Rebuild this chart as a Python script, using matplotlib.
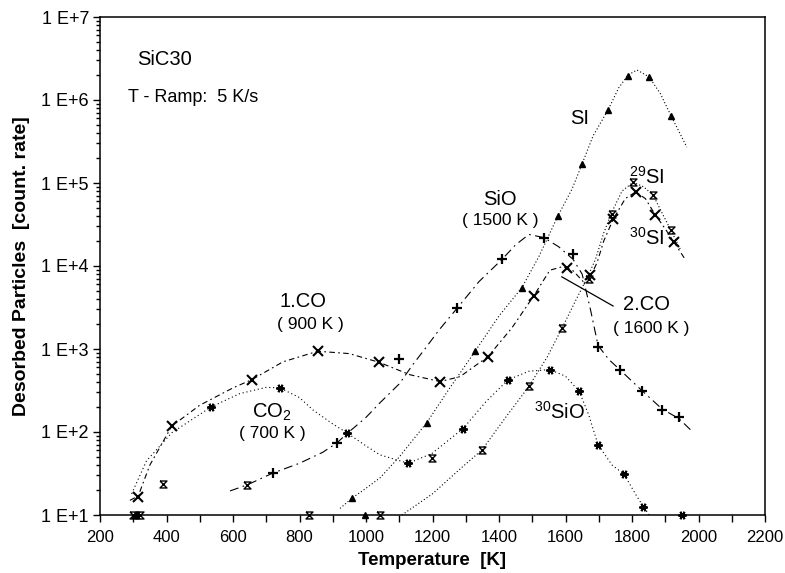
# SiC30 thermal desorption spectra, log count rate vs temperature

import numpy as np
import matplotlib
matplotlib.use('Agg')
import matplotlib.pyplot as plt
from matplotlib.path import Path
from matplotlib.ticker import FixedLocator, FuncFormatter, LogLocator, NullFormatter

plt.rcParams['font.family'] = ['Liberation Sans', 'DejaVu Sans']
plt.rcParams['mathtext.fontset'] = 'custom'
plt.rcParams['mathtext.rm'] = 'Liberation Sans'
plt.rcParams['mathtext.it'] = 'Liberation Sans:italic'
plt.rcParams['mathtext.bf'] = 'Liberation Sans:bold'

# ---- measured points (markers) ----
si_T = [305, 958, 997, 1183, 1328, 1469, 1577, 1650, 1728, 1788, 1851, 1917]
si_v = [10, 16, 10, 130, 940, 5500, 4.0e4, 1.7e5, 7.6e5, 1.95e6, 1.87e6, 6.5e5]

sio_T = [720, 913, 1099, 1274, 1409, 1535, 1623, 1698, 1764, 1830, 1890, 1941]
sio_v = [32, 74, 760, 3100, 1.2e4, 2.15e4, 1.38e4, 1050, 560, 315, 185, 150]

co_T = [315, 416, 658, 855, 1040, 1223, 1367, 1505, 1604, 1674, 1744, 1811, 1869, 1926]
co_v = [16.5, 118, 425, 955, 690, 405, 810, 4400, 9400, 7700, 3.7e4, 7.8e4, 4.1e4, 1.95e4]

co2_T = [310, 534, 741, 942, 1127, 1292, 1427, 1553, 1641, 1698, 1776, 1834, 1950]
co2_v = [10, 200, 340, 98, 42, 110, 425, 565, 310, 70, 31, 12.6, 10]

si29_T = [300, 320, 390, 642, 829, 1042, 1198, 1349, 1490, 1590, 1670, 1740, 1803, 1864, 1917]
si29_v = [10, 10, 23.6, 23, 10, 10, 49, 61, 355, 1800, 7000, 4.2e4, 1.02e5, 7.1e4, 2.7e4]

# ---- fitted curves ----
si_cT = [922, 958, 1000, 1042, 1100, 1183, 1250, 1328, 1400, 1469, 1520, 1577, 1620,
         1650, 1683, 1728, 1760, 1788, 1815, 1851, 1885, 1917, 1965]
si_cv = [12, 16, 21, 28, 50, 130, 330, 940, 2500, 5500, 1.3e4, 4.0e4, 8.5e4,
         1.7e5, 3.7e5, 7.6e5, 1.4e6, 2.0e6, 2.3e6, 1.9e6, 1.2e6, 6.5e5, 2.7e5]

sio_cT = [591, 642, 720, 800, 870, 913, 942, 1000, 1042, 1100, 1141, 1177, 1220, 1274, 1340,
          1409, 1450, 1490, 1535, 1580, 1623, 1650, 1675, 1698, 1730, 1764, 1830, 1890, 1941, 1983]
sio_cv = [19.5, 23, 32, 42, 57, 74, 95, 150, 225, 380, 650, 1000, 1700, 3100, 6500,
          1.2e4, 1.8e4, 2.4e4, 2.2e4, 1.7e4, 1.2e4, 8000, 3000, 1100, 750, 560, 315, 190, 145, 100]

co_cT = [290, 315, 350, 416, 500, 600, 658, 750, 855, 950, 1040, 1132, 1223, 1283, 1367,
         1439, 1505, 1553, 1590, 1620, 1653, 1674, 1695, 1715, 1744, 1780, 1811, 1840,
         1869, 1900, 1926, 1960]
co_cv = [15, 17, 40, 118, 210, 340, 430, 700, 940, 880, 690, 490, 405, 465, 810,
         1800, 4400, 8900, 9800, 9000, 6500, 7300, 1.1e4, 2.0e4, 3.7e4, 6.5e4, 7.8e4, 6.5e4,
         4.2e4, 2.8e4, 1.95e4, 1.2e4]

co2_cT = [295, 340, 416, 534, 620, 700, 741, 800, 840, 900, 942, 1000, 1042, 1127, 1198,
          1292, 1360, 1427, 1490, 1553, 1600, 1641, 1670, 1698, 1740, 1776, 1810, 1834, 1852]
co2_cv = [18, 45, 98, 200, 290, 345, 340, 260, 185, 125, 98, 68, 53, 42, 55,
          110, 230, 425, 540, 565, 470, 310, 160, 70, 40, 31, 18, 12.6, 10]

si29_cT = [1108, 1200, 1280, 1349, 1420, 1490, 1545, 1590, 1630, 1665, 1690, 1715, 1740,
           1770, 1803, 1835, 1864, 1895, 1917, 1945]
si29_cv = [10, 18, 35, 61, 150, 355, 800, 1800, 3800, 7200, 1.2e4, 2.5e4, 4.5e4,
           8.0e4, 1.02e5, 9.0e4, 7.1e4, 4.0e4, 2.7e4, 1.6e4]

hourglass = Path([(-1, 1), (1, 1), (-1, -1), (1, -1), (-1, 1)])

fig = plt.figure(figsize=(7.85, 5.73), dpi=100)
ax = fig.add_axes([100 / 785, 1 - 515 / 573, 665 / 785, 498 / 573])

lw = 0.8
ax.plot(si_cT, si_cv, color='k', lw=lw, dashes=(1, 2))
ax.plot(sio_cT, sio_cv, color='k', lw=lw, dashes=(8, 4, 1.5, 4))
ax.plot(co_cT, co_cv, color='k', lw=lw, dashes=(5, 3, 1.5, 3))
ax.plot(co2_cT, co2_cv, color='k', lw=lw, dashes=(1, 2.5))
ax.plot(si29_cT, si29_cv, color='k', lw=lw, dashes=(1, 2))

mk = dict(color='k', linestyle='none', clip_on=False, zorder=3)
ax.plot(si_T, si_v, marker='^', markersize=4.5, **mk)
ax.plot(sio_T, sio_v, marker='+', markersize=7, markeredgewidth=1.6, **mk)
ax.plot(co_T, co_v, marker='x', markersize=7.5, markeredgewidth=1.5, **mk)
ax.plot(co2_T, co2_v, marker=(6, 2, 90), markersize=6, markeredgewidth=1.4, **mk)
ax.plot(si29_T, si29_v, marker=hourglass, markersize=5, markeredgewidth=1.0,
        markerfacecolor='none', **mk)

ax.set_xlim(200, 2200)
ax.set_yscale('log')
ax.set_ylim(10, 1e7)

ax.xaxis.set_major_locator(FixedLocator(np.arange(200, 2201, 200)))
ax.xaxis.set_minor_locator(FixedLocator(np.arange(300, 2200, 200)))
ax.yaxis.set_major_locator(LogLocator(base=10, numticks=10))
ax.yaxis.set_minor_locator(LogLocator(base=10, subs=np.arange(2, 10), numticks=20))
ax.yaxis.set_minor_formatter(NullFormatter())
ax.yaxis.set_major_formatter(FuncFormatter(lambda v, p: '1 E+%d' % round(np.log10(v))))
ax.xaxis.get_offset_text().set_visible(False)
ax.yaxis.get_offset_text().set_visible(False)

ax.tick_params(which='both', direction='out', top=False, right=False, width=1.0)
ax.tick_params(axis='x', which='both', length=5, labelsize=12, pad=6)
ax.tick_params(axis='y', which='major', length=5, labelsize=13, pad=3)
ax.tick_params(axis='y', which='minor', length=3)
for s in ax.spines.values():
    s.set_linewidth(1.1)

ax.set_xlabel('Temperature  [K]', fontsize=13.5, fontweight='bold', labelpad=5)
ax.set_ylabel('Desorbed Particles  [count. rate]', fontsize=14, fontweight='bold', labelpad=8)

ax.text(0.056, 0.914, 'SiC30', transform=ax.transAxes, fontsize=14.5, va='center', ha='left')
ax.text(0.042, 0.839, 'T - Ramp:  5 K/s', transform=ax.transAxes, fontsize=13, va='center', ha='left')

big, small = 14.5, 12.5
labels = [
    ('SI', 1644, 6.0e5, big),
    ('$^{29}$SI', 1845, 1.17e5, big),
    ('SiO', 1403, 6.3e4, big),
    ('( 1500 K )', 1403, 3.5e4, small),
    ('$^{30}$SI', 1845, 2.2e4, big),
    ('1.CO', 810, 3700, big),
    ('( 900 K )', 832, 2000, small),
    ('CO$_2$', 717, 174, big),
    ('( 700 K )', 717, 97, small),
    ('2.CO', 1845, 3400, big),
    ('( 1600 K )', 1857, 1780, small),
    ('$^{30}$SiO', 1583, 174, big),
]
for txt, x, y, fs in labels:
    ax.text(x, y, txt, fontsize=fs, ha='center', va='center')

ax.plot([1589, 1743], [7400, 3300], color='k', lw=0.9)

fig.savefig('out.png', dpi=100)
